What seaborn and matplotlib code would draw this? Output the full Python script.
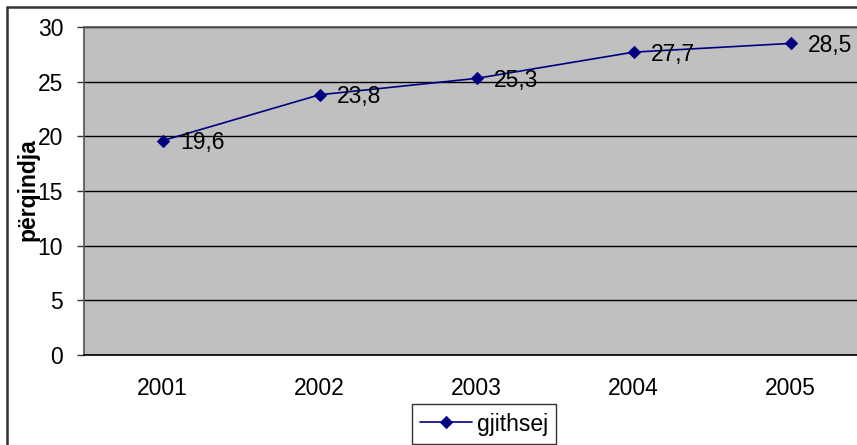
import seaborn as sns
from matplotlib import pyplot as plt
from matplotlib.patches import Rectangle
import pandas as pd

years = ['2001', '2002', '2003', '2004', '2005']
gjithsej = [19.6, 23.8, 25.3, 27.7, 28.5]
y_ticks = [0, 5, 10, 15, 20, 25, 30]

sns.set_style('white')
plt.rcParams['font.family'] = ['Liberation Sans', 'DejaVu Sans']
plt.rcParams['text.color'] = 'black'
plt.rcParams['xtick.color'] = 'black'
plt.rcParams['ytick.color'] = 'black'
plt.rcParams['axes.labelcolor'] = 'black'

FS = 16.5

df = pd.DataFrame({'year': years, 'value': gjithsej})
df['pos'] = range(len(years))

fig = plt.figure(figsize=(8.57, 4.45), dpi=100)
ax = fig.add_axes([84 / 857, 90 / 445, 785 / 857, 328 / 445])
ax.set_facecolor('#C0C0C0')

sns.lineplot(data=df, x='pos', y='value', ax=ax, color='#000080',
             marker='D', markersize=6, markeredgecolor='#000080',
             linewidth=1.2, label='gjithsej', zorder=3)

for i, v in enumerate(gjithsej):
    ax.annotate(f'{v:.1f}'.replace('.', ','), (i, v), xytext=(12.5, -1.5),
                textcoords='offset points', va='center', ha='left',
                fontsize=FS, zorder=4)

ax.set_xlim(-0.5, len(years) - 0.5)
ax.set_ylim(0, 30)
ax.set_yticks(y_ticks)
ax.set_yticklabels([str(t) for t in y_ticks], fontsize=FS)
ax.set_xticks(range(len(years)))
ax.set_xticklabels(years, fontsize=FS)
ax.set_xticks([i - 0.5 for i in range(len(years) + 1)], minor=True)
ax.tick_params(axis='x', which='major', length=0, pad=16)
ax.tick_params(axis='x', which='minor', length=5, width=1, color='#555555',
               direction='out')
ax.tick_params(axis='y', length=5, width=1, color='#333333', direction='out',
               pad=10, left=True)
ax.yaxis.grid(True, color='black', linewidth=1)
ax.set_axisbelow(True)
for s in ax.spines.values():
    s.set_color('#555555')
    s.set_linewidth(1.2)
ax.spines['bottom'].set_color('black')

ax.set_xlabel('')
ax.set_ylabel('përqindja', fontsize=FS, fontweight='bold')
ax.yaxis.set_label_coords((39 - 84) / 785, (355 - 190) / 328)

leg = ax.legend(loc='center', bbox_to_anchor=(484 / 857, 21 / 445),
                bbox_transform=fig.transFigure, fontsize=FS, frameon=True,
                fancybox=False, borderpad=0.35, handlelength=2.3,
                handletextpad=0.2, borderaxespad=0)
leg.get_frame().set_edgecolor('black')
leg.get_frame().set_linewidth(1)

fig.patches.append(Rectangle((7 / 857, -0.1), 1.2, (445 - 7) / 445 + 0.1,
                             transform=fig.transFigure, fill=False,
                             edgecolor='#333333', linewidth=1.8))

fig.savefig('out.png', dpi=100)
